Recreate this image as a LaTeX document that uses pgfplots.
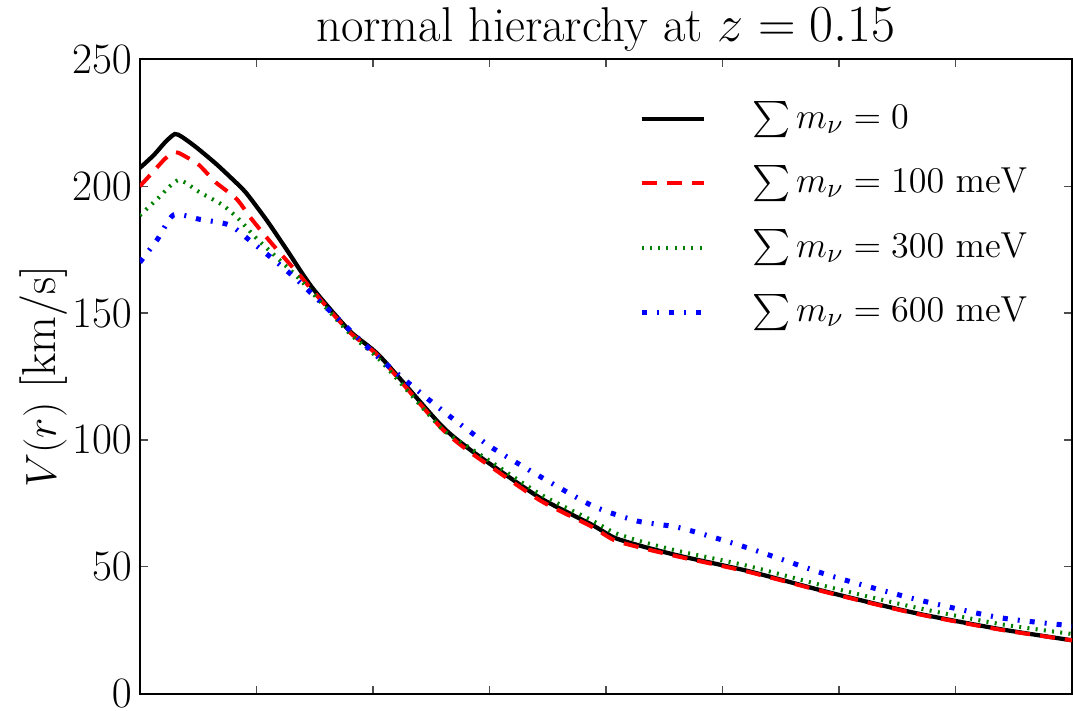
\documentclass[border=0pt]{standalone}
\usepackage{amsmath}
\usepackage{pgfplots}
\pgfplotsset{compat=1.18}

\definecolor{mplgreen}{rgb}{0,0.5,0}

\begin{document}
\begin{tikzpicture}
    \begin{axis}[
        % Size
        scale only axis,
        width  = 371.6pt,
        height = 252.8pt,
        % Axes
        xmin = 0, xmax = 8,
        ymin = 0, ymax = 250,
        xtick = {1,2,3,4,5,6,7},
        xticklabels = {},
        ytick = {0,50,100,150,200,250},
        tick align = inside,
        major tick length = 3.2pt,
        tick style = {black!70, line width=0.6pt},
        axis line style = {line width=0.8pt},
        every tick label/.append style = {font=\fontsize{16}{19}\selectfont},
        yticklabel style = {inner xsep=3pt, inner ysep=1pt},
        % Labels
        title = {normal hierarchy at $z=0.15$},
        every axis title shift = 0pt,
        title style = {
            font = \fontsize{19.5}{23}\selectfont,
            at = {(0.5,1)}, anchor = south, inner sep = 3pt
        },
        ylabel = {$V(r)$ [km/s]},
        ylabel style = {
            font = \fontsize{19}{22}\selectfont,
            at = {(axis description cs:-0.103,0.5)}, anchor = center,
            inner xsep = 0pt, inner ysep = 8pt
        },
        % Legend
        legend style = {
            draw = none,
            fill = none,
            inner sep = 0pt,
            at = {(0.535,0.937)},
            anchor = north west,
            font = \fontsize{15}{18}\selectfont,
            nodes = {inner sep=0pt, text height=11.25pt, text depth=3.75pt},
            row sep = 10.7pt,
            /tikz/every odd column/.append style = {column sep=18pt}
        },
        legend cell align = left,
        legend image code/.code = {
            \draw[#1] (0cm,0cm) -- (0.88cm,0cm);
        }
    ]

        % sum m_nu = 0
        \addplot[black, line width=1.7pt, smooth, tension=0.4] coordinates {
            (0.00, 207.2) (0.12, 212.3) (0.22, 217.5) (0.30, 220.6)
            (0.36, 219.5) (0.48, 215.5) (0.65, 209.0) (0.79, 203.0)
            (0.91, 197.5) (1.09, 186.5) (1.26, 175.0) (1.48, 160.0)
            (1.80, 143.0) (2.06, 133.0) (2.58, 106.0) (2.81,  97.0)
            (3.01,  90.4) (3.44,  77.0) (3.87,  66.8) (4.07,  61.5)
            (4.30,  58.2) (4.64,  54.2) (5.22,  48.3) (5.93,  39.7)
            (6.65,  31.8) (7.37,  25.5) (8.00,  21.0)
        };

        % sum m_nu = 100 meV
        \addplot[red, line width=1.6pt, dash pattern=on 6pt off 4pt, smooth, tension=0.4] coordinates {
            (0.00, 200.0) (0.10, 205.0) (0.22, 211.0) (0.31, 213.4)
            (0.40, 211.5) (0.51, 208.3) (0.65, 201.6) (0.83, 195.0)
            (0.96, 187.0) (1.14, 177.0) (1.37, 165.0) (1.48, 159.0)
            (1.80, 142.5) (2.06, 132.5) (2.58, 105.0) (2.81,  96.0)
            (3.01,  89.5) (3.44,  76.0) (3.87,  66.0) (4.07,  60.5)
            (4.30,  57.5) (4.64,  53.8) (5.22,  48.0) (5.93,  39.5)
            (6.65,  31.6) (7.37,  25.3) (8.00,  21.0)
        };

        % sum m_nu = 300 meV
        \addplot[mplgreen, line width=1.6pt, dash pattern=on 0.8pt off 2.5pt, smooth, tension=0.4] coordinates {
            (0.00, 188.5) (0.15, 195.0) (0.33, 202.4) (0.51, 197.7)
            (0.71, 192.6) (0.85, 187.0) (1.00, 179.5) (1.22, 170.0)
            (1.40, 162.0) (1.80, 142.0) (2.06, 131.5) (2.58, 105.0)
            (2.81,  97.5) (3.01,  91.5) (3.44,  78.5) (3.87,  68.5)
            (4.07,  63.5) (4.30,  60.0) (4.64,  56.0) (5.22,  50.3)
            (5.93,  41.8) (6.65,  34.0) (7.37,  27.5) (8.00,  23.5)
        };

        % sum m_nu = 600 meV
        \addplot[blue, line width=2pt, dash pattern=on 2pt off 4pt on 0.8pt off 4pt, smooth, tension=0.4] coordinates {
            (0.00, 170.0) (0.15, 179.0) (0.29, 188.7) (0.51, 187.0)
            (0.77, 184.7) (0.96, 178.0) (1.15, 171.0) (1.34, 163.5)
            (1.70, 147.8) (2.06, 132.0) (2.45, 117.0) (2.64, 110.0)
            (2.83, 103.4) (3.03,  96.7) (3.46,  84.9) (3.89,  73.9)
            (4.27,  68.0) (4.64,  65.3) (5.22,  57.4) (5.93,  46.4)
            (6.65,  37.3) (7.37,  30.0) (8.00,  26.7)
        };

        \legend{
            $\sum m_\nu = 0$,
            $\sum m_\nu = 100~\mathrm{meV}$,
            $\sum m_\nu = 300~\mathrm{meV}$,
            $\sum m_\nu = 600~\mathrm{meV}$
        }
    \end{axis}
\end{tikzpicture}
\end{document}
